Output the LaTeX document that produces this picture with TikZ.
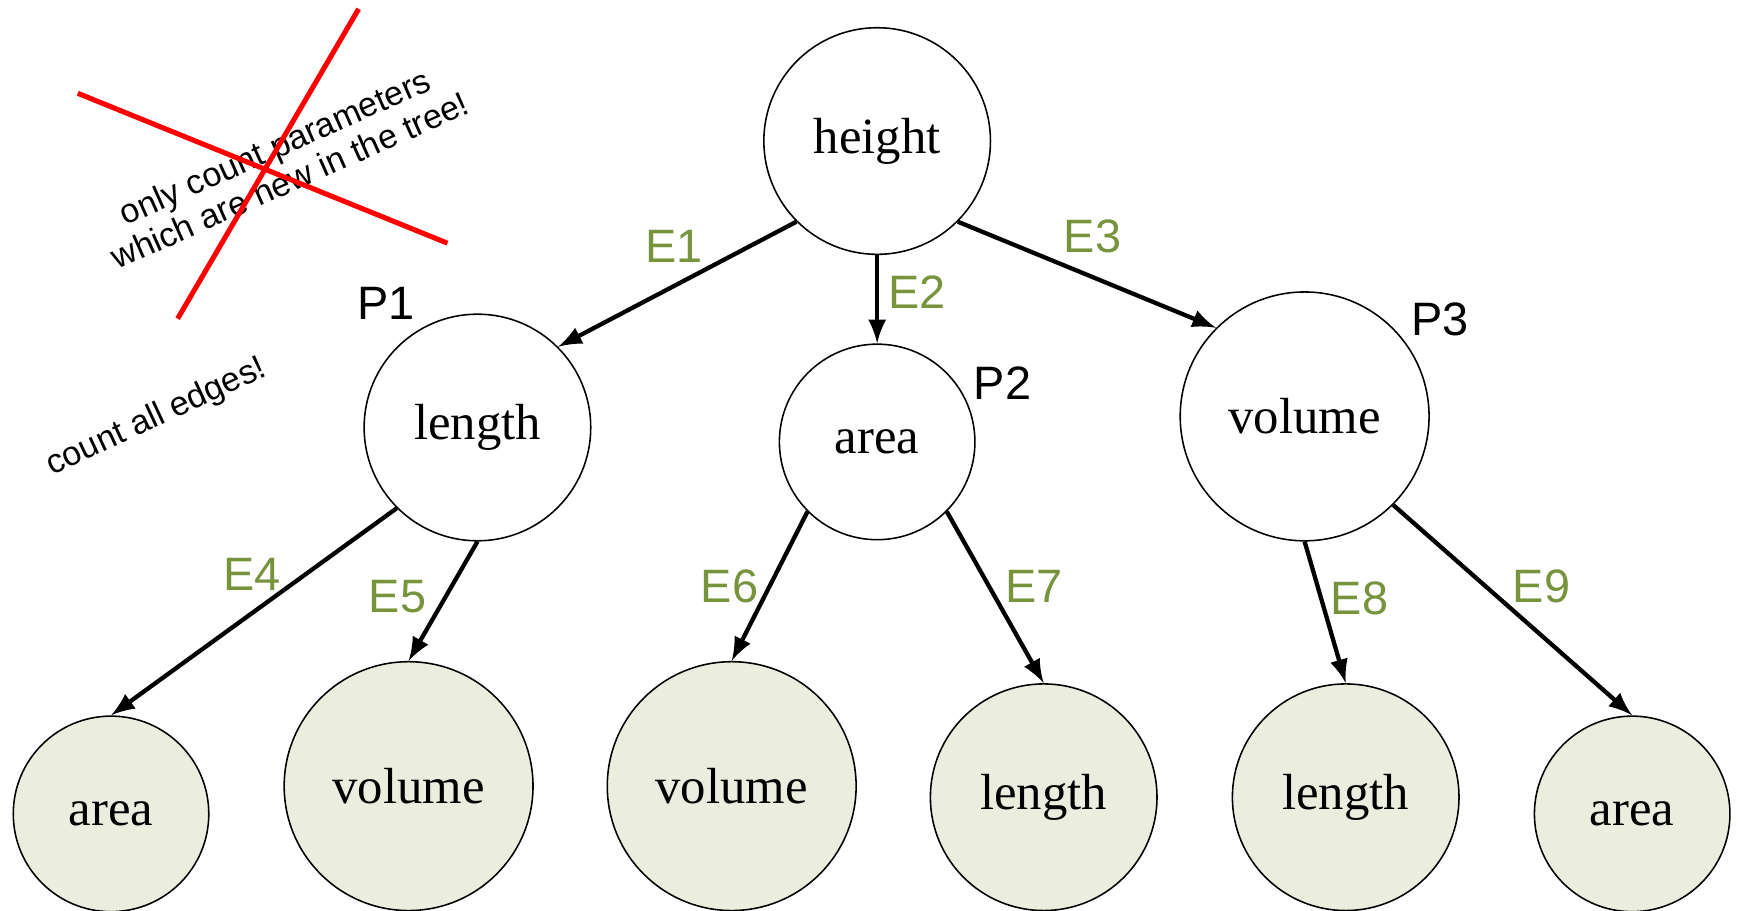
\documentclass[tikz,border=0pt]{standalone}
\usepackage{fontspec}
\setmainfont{Liberation Serif}
\setsansfont{Liberation Sans}
\usepackage{tikz}
\usetikzlibrary{positioning}
\usetikzlibrary{arrows,shapes}
\usetikzlibrary{calc}
\definecolor{edgegreen}{RGB}{119,147,60}
\definecolor{leafgreen}{RGB}{235,238,223}
\tikzstyle{vertex}=[circle,draw=black,fill=white,inner sep=0pt,font=\fontsize{13}{15}\selectfont]
\tikzstyle{leafvertex}=[vertex,fill=leafgreen]
\tikzstyle{edge} = [draw,line width=1.1pt,-latex]
\tikzstyle{weight} = [font=\sffamily\fontsize{12}{14}\selectfont,text=edgegreen,inner sep=0pt]
\tikzstyle{plabel} = [font=\sffamily\fontsize{12}{14}\selectfont]
\tikzstyle{note} = [font=\sffamily\fontsize{8.7}{9.4}\selectfont,align=center]
\tikzstyle{strike} = [draw=red,line width=1.3pt]

\begin{document}
\begin{tikzpicture}[x=0.01cm,y=-0.01cm]
    \useasboundingbox (0,0) rectangle (1568,820);

    \foreach \pos/\name/\label/\dia in {{(790,127)/height/height/2.04}, {(430,385)/len/length/2.04}, {(790,398)/ar/area/1.76}, {(1175,375)/vol/volume/2.24}}
        \node[vertex,minimum size=\dia cm] (\name) at \pos {\label};

    \foreach \pos/\name/\label/\dia in {{(100,733)/a1/area/1.76}, {(368,708)/v1/volume/2.24}, {(659,708)/v2/volume/2.24}, {(940,718)/l1/length/2.04}, {(1212,718)/l2/length/2.04}, {(1470,733)/a2/area/1.76}}
        \node[leafvertex,minimum size=\dia cm] (\name) at \pos {\label};

    \foreach \source/\dest/\weight/\off in {height.-135/len.45/E1/{(-3,-34)}, height.south/ar.north/E2/{(36,-6)}, height.-45/vol.135/E3/{(5,-35)}, len.-135/a1.north/E4/{(-2,-34)}, len.south/v1.north/E5/{(-41,-4)}, ar.-135/v2.north/E6/{(-36,0)}, ar.-45/l1.north/E7/{(35,-10)}, vol.south/l2.north/E8/{(31,-13)}, vol.-45/a2.north/E9/{(26,-21)}}
        \path[edge] (\source) -- node[weight,shift=\off] {\weight} (\dest);

    \node[plabel] (p1) at (348,273) {P1};
    \node[plabel] (p2) at (903,345) {P2};
    \node[plabel] (p3) at (1297,288) {P3};

    % notes
    \node[note,rotate=24] (newonly) at (254,147) {only count parameters\\which are new in the tree!};
    \node[note,rotate=25] (alledges) at (141,376) {count all edges!};
    \draw[strike] (70,84) -- (403,219);
    \draw[strike] (323,8) -- (160,287);

\end{tikzpicture}
\end{document}
